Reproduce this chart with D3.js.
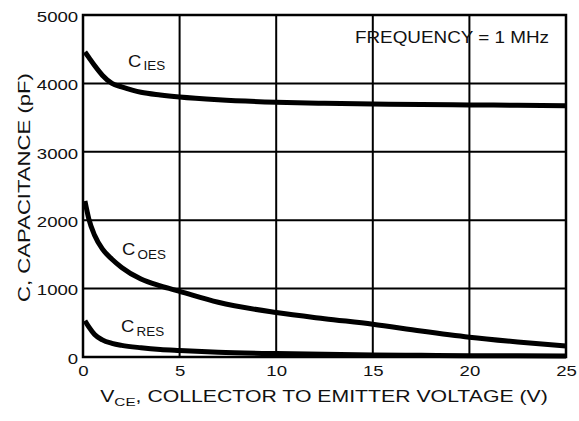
<!DOCTYPE html>
<html>
<head>
<meta charset="utf-8">
<script src="https://cdn.jsdelivr.net/npm/d3@7"></script>
<style>
  body { margin: 0; background: #fff; }
  text { font-family: "Liberation Sans", Arial, sans-serif; fill: #111; }
</style>
</head>
<body>
<div class="viz"></div>
<script>
// data (V in volts, C in pF)
const vCes = [0.1, 0.3, 0.6, 1, 1.5, 2, 3, 4, 5, 7, 10, 12.5, 15, 17.5, 20, 22.5, 25];
const cIes = [4460, 4380, 4260, 4120, 4000, 3950, 3870, 3830, 3800, 3760, 3725, 3710, 3700, 3690, 3685, 3680, 3675];
const cOes = [2280, 2020, 1780, 1580, 1430, 1310, 1140, 1040, 960, 800, 650, 560, 480, 380, 290, 220, 160];
const cRes = [530, 440, 330, 250, 200, 170, 135, 110, 95, 70, 50, 40, 30, 25, 20, 18, 15];
const xTicks = [0, 5, 10, 15, 20, 25];
const yTicks = [0, 1000, 2000, 3000, 4000, 5000];
const curveLabels = [
  { main: 'C', sub: 'IES', v: 2.33, c: 4240 },
  { main: 'C', sub: 'OES', v: 2.02, c: 1490 },
  { main: 'C', sub: 'RES', v: 1.97, c: 365 }
];

const W = 579, H = 421;
const margins = { top: 15, right: 13, bottom: 64, left: 83 };
const width = W - margins.left - margins.right;
const height = H - margins.top - margins.bottom;

// the source lettering is wider than Liberation Sans, so stretch it
const WIDE = 1.2;

const svg = d3.select('div.viz').append('svg')
  .attr('width', W).attr('height', H);

const g = svg.append('g')
  .attr('transform', 'translate(' + margins.left + ',' + margins.top + ')');

const xScale = d3.scaleLinear().domain([0, 25]).range([0, width]);
const yScale = d3.scaleLinear().domain([0, 5000]).range([height, 0]);

// grid
g.append('g').selectAll('line').data(xTicks.slice(1, -1)).join('line')
  .attr('x1', d => xScale(d)).attr('x2', d => xScale(d))
  .attr('y1', 0).attr('y2', height)
  .attr('stroke', '#000').attr('stroke-width', 2);
g.append('g').selectAll('line').data(yTicks.slice(1, -1)).join('line')
  .attr('x1', 0).attr('x2', width)
  .attr('y1', d => yScale(d)).attr('y2', d => yScale(d))
  .attr('stroke', '#000').attr('stroke-width', 2);

// frame
g.append('rect')
  .attr('width', width).attr('height', height)
  .attr('fill', 'none').attr('stroke', '#000').attr('stroke-width', 2.5);

// axes (labels only)
const xAxis = g.append('g')
  .attr('transform', 'translate(0,' + height + ')')
  .call(d3.axisBottom(xScale).tickValues(xTicks).tickFormat(d3.format('d')).tickSize(0).tickPadding(8));
const yAxis = g.append('g')
  .call(d3.axisLeft(yScale).tickValues(yTicks).tickFormat(d3.format('d')).tickSize(0).tickPadding(4));
[xAxis, yAxis].forEach(a => {
  a.select('.domain').remove();
  a.selectAll('text')
    .style('font-family', '"Liberation Sans", Arial, sans-serif')
    .style('font-size', '15.5px').attr('fill', '#111')
    .attr('transform', 'scale(' + WIDE + ',1)');
});
yAxis.selectAll('text').attr('dy', '0.4em');

// curves
const line = d3.line()
  .x(d => xScale(d[0]))
  .y(d => yScale(d[1]))
  .curve(d3.curveMonotoneX);

[cIes, cOes, cRes].forEach(series => {
  g.append('path')
    .datum(vCes.map((v, i) => [v, series[i]]))
    .attr('d', line)
    .attr('fill', 'none')
    .attr('stroke', '#000')
    .attr('stroke-width', 5)
    .attr('stroke-linecap', 'butt');
});

// curve labels
curveLabels.forEach(l => {
  const t = g.append('g')
    .attr('transform', 'translate(' + xScale(l.v) + ',' + yScale(l.c) + ')')
    .append('text')
    .attr('transform', 'scale(1.12,1)')
    .style('font-size', '16.5px');
  t.append('tspan').text(l.main);
  t.append('tspan').attr('dx', 2).attr('dy', 3.5).style('font-size', '12px').text(l.sub);
});

// frequency note
g.append('g')
  .attr('transform', 'translate(' + (549 - margins.left) + ',' + (43 - margins.top) + ')')
  .append('text')
  .attr('text-anchor', 'end')
  .attr('transform', 'scale(1.18,1)')
  .style('font-size', '16px')
  .text('FREQUENCY = 1 MHz');

// x title, stretched to the source width
const xt = svg.append('g')
  .attr('transform', 'translate(324,402)')
  .append('text')
  .attr('text-anchor', 'middle')
  .style('font-size', '16px');
xt.append('tspan').text('V');
xt.append('tspan').attr('dy', 4).style('font-size', '11.5px').text('CE');
xt.append('tspan').attr('dy', -4).text(', COLLECTOR TO EMITTER VOLTAGE (V)');
xt.attr('transform', 'scale(' + (448 / xt.node().getBBox().width) + ',1)');

// y title
const yt = svg.append('g')
  .attr('transform', 'translate(30,187.5) rotate(-90)')
  .append('text')
  .attr('text-anchor', 'middle')
  .style('font-size', '17px')
  .text('C, CAPACITANCE (pF)');
yt.attr('transform', 'scale(' + (229 / yt.node().getBBox().width) + ',1)');
</script>
</body>
</html>
